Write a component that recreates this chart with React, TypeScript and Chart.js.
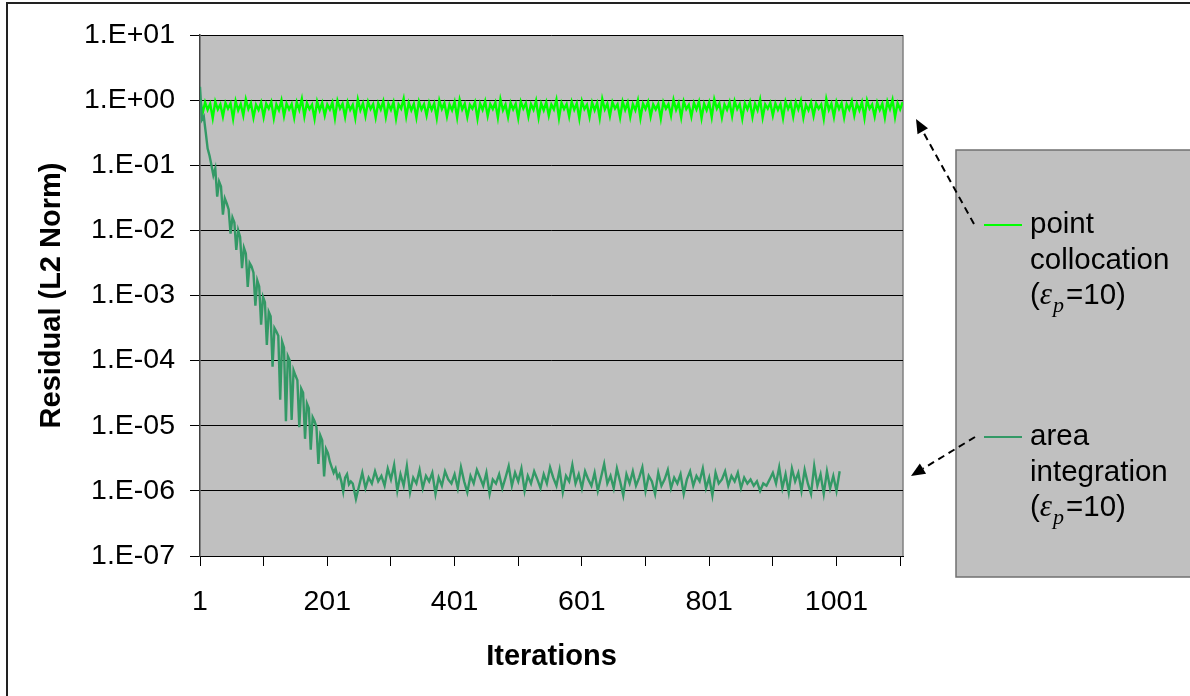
import React, { useEffect, useRef } from 'react';
import { Chart, registerables } from 'chart.js';

Chart.register(...registerables);

const W = 1190;
const H = 696;

// Axis ticks
const xTickValues = [1, 101, 201, 301, 401, 501, 601, 701, 801, 901, 1001, 1101];
const xLabelValues = [1, 201, 401, 601, 801, 1001];
const yTickValues = [1e-7, 1e-6, 1e-5, 1e-4, 1e-3, 1e-2, 1e-1, 1e0, 1e1];
const xMin = 1;
const xMax = 1105.5;

const xTitle = 'Iterations';
const yTitle = 'Residual (L2 Norm)';
const legendLines = [
  ['point', 'collocation'],
  ['area', 'integration'],
];
const legendParam = '=10)';

// point collocation series: every 4 iterations starting at 1
const greenStart = 1;
const greenStep = 4;
const greenValues = [
  1.05, 0.62, 0.93, 0.71, 0.88, 0.53, 0.95, 0.72, 0.86, 0.56, 0.91, 0.74,
  0.89, 0.52, 0.97, 0.70, 0.87, 0.58, 1.03, 0.73, 0.90, 0.54, 0.85, 0.71,
  0.92, 0.55, 0.88, 0.74, 0.94, 0.53, 0.86, 0.70, 0.99, 0.57, 0.89, 0.72,
  0.87, 0.54, 0.93, 0.71, 1.04, 0.56, 0.90, 0.73, 0.85, 0.52, 0.95, 0.70,
  0.91, 0.58, 0.86, 0.72, 0.92, 0.53, 0.98, 0.74, 0.88, 0.55, 0.93, 0.71,
  0.85, 0.53, 1.02, 0.70, 0.89, 0.57, 0.94, 0.73, 0.87, 0.54, 0.90, 0.72,
  0.96, 0.55, 0.88, 0.71, 0.93, 0.52, 0.86, 0.74, 1.05, 0.56, 0.91, 0.70,
  0.88, 0.54, 0.95, 0.72, 0.87, 0.58, 0.92, 0.71, 0.89, 0.53, 0.99, 0.73,
  0.90, 0.56, 0.86, 0.70, 0.94, 0.54, 1.01, 0.72, 0.88, 0.55, 0.85, 0.74,
  0.93, 0.52, 0.89, 0.71, 0.96, 0.57, 0.87, 0.73, 0.92, 0.54, 1.03, 0.70,
  0.86, 0.55, 0.91, 0.72, 0.88, 0.53, 0.95, 0.74, 0.90, 0.56, 0.87, 0.71,
  0.98, 0.54, 0.89, 0.70, 0.93, 0.58, 0.86, 0.72, 1.02, 0.53, 0.91, 0.73,
  0.87, 0.56, 0.94, 0.71, 0.89, 0.52, 0.97, 0.73, 0.85, 0.55, 0.92, 0.70,
  0.90, 0.53, 1.04, 0.72, 0.88, 0.57, 0.93, 0.74, 0.86, 0.54, 0.95, 0.71,
  0.92, 0.55, 0.87, 0.70, 0.99, 0.53, 0.89, 0.73, 0.94, 0.56, 0.86, 0.72,
  0.88, 0.52, 0.93, 0.74, 0.87, 0.58, 1.01, 0.71, 0.90, 0.54, 0.96, 0.73,
  0.85, 0.56, 0.91, 0.72, 0.95, 0.53, 0.88, 0.70, 0.92, 0.55, 1.03, 0.74,
  0.89, 0.54, 0.86, 0.71, 0.93, 0.57, 0.97, 0.73, 0.87, 0.52, 0.90, 0.72,
  0.94, 0.55, 0.88, 0.70, 1.02, 0.54, 0.86, 0.74, 0.91, 0.58, 0.89, 0.71,
  0.87, 0.53, 0.95, 0.73, 0.90, 0.56, 0.93, 0.72, 0.98, 0.54, 0.85, 0.70,
  0.92, 0.57, 0.89, 0.74, 0.86, 0.52, 1.04, 0.71, 0.88, 0.55, 0.94, 0.73,
  0.90, 0.54, 0.87, 0.72, 0.96, 0.58, 0.89, 0.70, 0.93, 0.53, 0.99, 0.74,
  0.86, 0.56, 0.92, 0.71, 0.88, 0.54, 0.95, 0.73, 1.01, 0.55, 0.90, 0.72,
  0.93,
];

// area integration series, decay part: every 3 iterations starting at 1
const tealDecayStart = 1;
const tealDecayStep = 3;
const tealDecay = [
  1.6, 0.5, 0.56, 0.32, 0.18, 0.14, 0.1, 0.07, 0.089, 0.033,
  0.056, 0.047, 0.0174, 0.031, 0.026, 0.021, 0.0089, 0.0158, 0.0132, 0.005,
  0.01, 0.0079, 0.00263, 0.0054, 0.0044, 0.00135, 0.00316, 0.0028, 0.00224, 0.0007,
  0.0017, 0.00138, 0.000355, 0.00095, 0.00079, 0.000174, 0.00056, 0.00048, 8.1e-5, 3.16e-4,
  2.8e-4, 2.4e-4, 2.5e-5, 1.95e-4, 1.58e-4, 1.17e-5, 1.17e-4, 1.0e-4, 1.23e-5, 7.1e-5,
  5.9e-5, 5.0e-5, 9.5e-6, 3.7e-5, 3.2e-5, 6.3e-6, 2.2e-5, 1.86e-5, 4.3e-6, 1.35e-5,
  1.17e-5, 9.5e-6, 2.6e-6, 7.1e-6, 6.0e-6, 1.66e-6, 4.4e-6, 3.8e-6, 2.8e-6, 2.3e-6,
  1.9e-6, 2.2e-6, 1.6e-6, 1.8e-6, 1.4e-6, 9.8e-7, 1.6e-6, 1.8e-6, 1.26e-6, 1.4e-6,
];

// area integration series, plateau part: every 5 iterations starting at 241
const tealFlatStart = 241;
const tealFlatStep = 5;
const tealFlat = [
  1.3e-6, 0.75e-6, 1.2e-6, 1.9e-6, 1.1e-6, 1.6e-6, 1.3e-6, 2.0e-6, 1.4e-6, 1.7e-6,
  1.2e-6, 2.2e-6, 1.5e-6, 2.5e-6, 1.0e-6, 1.8e-6, 1.2e-6, 2.4e-6, 0.95e-6, 1.6e-6,
  1.3e-6, 2.1e-6, 1.1e-6, 1.7e-6, 1.4e-6, 1.9e-6, 0.9e-6, 1.6e-6, 1.2e-6, 2.0e-6,
  1.5e-6, 1.3e-6, 1.8e-6, 1.1e-6, 2.3e-6, 1.4e-6, 0.95e-6, 1.7e-6, 1.3e-6, 2.1e-6,
  1.6e-6, 1.2e-6, 1.9e-6, 0.9e-6, 1.5e-6, 1.3e-6, 1.8e-6, 1.1e-6, 1.6e-6, 2.4e-6,
  1.2e-6, 1.9e-6, 1.4e-6, 2.2e-6, 1.0e-6, 1.7e-6, 1.3e-6, 2.0e-6, 1.5e-6, 1.1e-6,
  1.8e-6, 1.3e-6, 2.3e-6, 1.6e-6, 1.2e-6, 2.1e-6, 0.95e-6, 1.7e-6, 1.4e-6, 2.5e-6,
  1.3e-6, 1.8e-6, 1.1e-6, 2.0e-6, 1.5e-6, 1.2e-6, 1.9e-6, 1.0e-6, 1.6e-6, 2.6e-6,
  1.3e-6, 1.7e-6, 1.1e-6, 2.2e-6, 1.4e-6, 0.85e-6, 1.8e-6, 1.3e-6, 2.0e-6, 1.2e-6,
  1.6e-6, 2.3e-6, 1.0e-6, 1.7e-6, 1.4e-6, 0.9e-6, 1.9e-6, 1.2e-6, 1.5e-6, 2.1e-6,
  1.1e-6, 1.6e-6, 1.3e-6, 1.8e-6, 0.9e-6, 1.5e-6, 2.0e-6, 1.2e-6, 1.7e-6, 1.4e-6,
  2.2e-6, 1.1e-6, 1.6e-6, 0.85e-6, 1.9e-6, 1.3e-6, 1.5e-6, 2.0e-6, 1.2e-6, 1.7e-6,
  1.4e-6, 1.9e-6, 1.1e-6, 1.6e-6, 1.3e-6, 1.5e-6, 1.2e-6, 1.4e-6, 1.0e-6, 1.3e-6,
  1.2e-6, 1.5e-6, 1.9e-6, 1.3e-6, 2.3e-6, 1.1e-6, 1.8e-6, 0.95e-6, 2.2e-6, 1.4e-6,
  1.9e-6, 1.0e-6, 2.1e-6, 1.3e-6, 0.9e-6, 2.4e-6, 1.2e-6, 1.8e-6, 0.9e-6, 2.0e-6,
  1.1e-6, 1.7e-6, 1.0e-6, 2.0e-6,
];

const GREEN = '#00FF00';
const TEAL = '#339966';
const PLOT_BG = '#C0C0C0';
const FONT = "'Liberation Sans', Arial, sans-serif";
const SERIF = "'Liberation Serif', 'Times New Roman', serif";

function seq(start: number, step: number, values: number[]) {
  return values.map((v, i) => ({ x: start + i * step, y: v }));
}

function expLabel(v: number) {
  const e = Math.round(Math.log10(v));
  return '1.E' + (e < 0 ? '-' : '+') + String(Math.abs(e)).padStart(2, '0');
}

function drawArrow(ctx: CanvasRenderingContext2D, x1: number, y1: number, x2: number, y2: number) {
  const ang = Math.atan2(y2 - y1, x2 - x1);
  const headLen = 14;
  const headHalf = 6;
  const bx = x2 - headLen * Math.cos(ang);
  const by = y2 - headLen * Math.sin(ang);
  ctx.save();
  ctx.strokeStyle = '#000';
  ctx.lineWidth = 2;
  ctx.setLineDash([7, 5]);
  ctx.beginPath();
  ctx.moveTo(x1, y1);
  ctx.lineTo(bx, by);
  ctx.stroke();
  ctx.setLineDash([]);
  ctx.fillStyle = '#000';
  ctx.beginPath();
  ctx.moveTo(x2, y2);
  ctx.lineTo(bx + headHalf * Math.sin(ang), by - headHalf * Math.cos(ang));
  ctx.lineTo(bx - headHalf * Math.sin(ang), by + headHalf * Math.cos(ang));
  ctx.closePath();
  ctx.fill();
  ctx.restore();
}

const framePlugin = {
  id: 'framePlugin',
  beforeDraw(chart: any) {
    const { ctx, chartArea: a } = chart;
    ctx.save();
    ctx.fillStyle = PLOT_BG;
    ctx.fillRect(a.left, a.top, a.right - a.left, a.bottom - a.top);
    ctx.strokeStyle = '#808080';
    ctx.lineWidth = 1.5;
    ctx.beginPath();
    ctx.moveTo(a.right, a.top);
    ctx.lineTo(a.right, a.bottom);
    ctx.stroke();
    // outer chart border (left and top visible)
    ctx.strokeStyle = '#222';
    ctx.lineWidth = 2;
    ctx.beginPath();
    ctx.moveTo(7, H + 5);
    ctx.lineTo(7, 3);
    ctx.lineTo(W + 5, 3);
    ctx.stroke();
    ctx.restore();
  },
  afterDraw(chart: any) {
    const ctx: CanvasRenderingContext2D = chart.ctx;
    ctx.save();
    // legend box
    ctx.fillStyle = PLOT_BG;
    ctx.fillRect(956, 150, W + 10 - 956, 577 - 150);
    ctx.strokeStyle = '#707070';
    ctx.lineWidth = 1.5;
    ctx.strokeRect(956, 150, W + 10 - 956, 577 - 150);

    const colors = [GREEN, TEAL];
    const baseY = [225, 437];
    const lh = 35.5;
    for (let k = 0; k < 2; k++) {
      const y0 = baseY[k];
      ctx.strokeStyle = colors[k];
      ctx.lineWidth = 2;
      ctx.beginPath();
      ctx.moveTo(984, y0);
      ctx.lineTo(1022, y0);
      ctx.stroke();
      ctx.fillStyle = '#000';
      ctx.textBaseline = 'middle';
      ctx.textAlign = 'left';
      ctx.font = '29.5px ' + FONT;
      ctx.fillText(legendLines[k][0], 1030, y0);
      ctx.fillText(legendLines[k][1], 1030, y0 + lh);
      const y2 = y0 + 2 * lh;
      let x = 1030;
      ctx.fillText('(', x, y2);
      x += ctx.measureText('(').width;
      ctx.font = 'italic 31px ' + SERIF;
      ctx.fillText('\u03B5', x, y2);
      x += ctx.measureText('\u03B5').width + 1;
      ctx.font = 'italic 22px ' + SERIF;
      ctx.fillText('p', x, y2 + 10);
      x += ctx.measureText('p').width + 2;
      ctx.font = '29.5px ' + FONT;
      ctx.fillText(legendParam, x, y2);
    }
    ctx.restore();

    drawArrow(ctx, 974, 224, 916, 119);
    drawArrow(ctx, 975, 437, 911, 476);
  },
};

export default function App() {
  const ref = useRef<HTMLCanvasElement | null>(null);

  useEffect(() => {
    document.body.style.margin = '0';
    const canvas = ref.current;
    if (!canvas) return;
    Chart.defaults.font.family = FONT;
    Chart.defaults.color = '#000';

    const chart = new Chart(canvas, {
      type: 'line',
      data: {
        datasets: [
          {
            label: legendLines[1].join(' '),
            data: [...seq(tealDecayStart, tealDecayStep, tealDecay), ...seq(tealFlatStart, tealFlatStep, tealFlat)],
            borderColor: TEAL,
            borderWidth: 2.4,
            pointRadius: 0,
            tension: 0,
            fill: false,
          },
          {
            label: legendLines[0].join(' '),
            data: seq(greenStart, greenStep, greenValues),
            borderColor: GREEN,
            borderWidth: 2.4,
            pointRadius: 0,
            tension: 0,
            fill: false,
          },
        ],
      },
      plugins: [framePlugin],
      options: {
        animation: false,
        responsive: false,
        devicePixelRatio: 1,
        layout: { padding: { left: 0, top: 35, right: W - 903, bottom: 0 } },
        plugins: {
          legend: { display: false },
          tooltip: { enabled: false },
        },
        scales: {
          x: {
            type: 'linear',
            min: xMin,
            max: xMax,
            afterFit: (s: any) => { s.height = 140; },
            afterBuildTicks: (s: any) => { s.ticks = xTickValues.map((v) => ({ value: v })); },
            ticks: {
              autoSkip: false,
              maxRotation: 0,
              minRotation: 0,
              padding: 19,
              font: { size: 28.5 },
              color: '#000',
              callback: (v: any) => (xLabelValues.includes(Number(v)) ? String(v) : ''),
            },
            grid: {
              drawOnChartArea: false,
              drawTicks: true,
              tickLength: 10,
              color: '#000',
              lineWidth: 1,
            },
            border: { display: true, color: '#000', width: 1 },
            title: {
              display: true,
              text: xTitle,
              font: { size: 29, weight: 'bold' },
              color: '#000',
              padding: { top: 0, bottom: 22 },
            },
          },
          y: {
            type: 'logarithmic',
            min: 1e-7,
            max: 10,
            afterFit: (s: any) => { s.width = 200; },
            afterBuildTicks: (s: any) => { s.ticks = yTickValues.map((v) => ({ value: v })); },
            ticks: {
              autoSkip: false,
              padding: 15,
              font: { size: 28.5 },
              color: '#000',
              callback: (v: any) => expLabel(Number(v)),
            },
            grid: {
              drawOnChartArea: true,
              drawTicks: true,
              tickLength: 10,
              color: '#000',
              lineWidth: 1,
            },
            border: { display: true, color: '#404040', width: 1.5 },
            title: {
              display: true,
              text: yTitle,
              font: { size: 29, weight: 'bold' },
              color: '#000',
              padding: { top: 35, bottom: 0 },
            },
          },
        },
      },
    } as any);

    return () => chart.destroy();
  }, []);

  return <canvas ref={ref} width={W} height={H} style={{ display: 'block', width: W, height: H }} />;
}
